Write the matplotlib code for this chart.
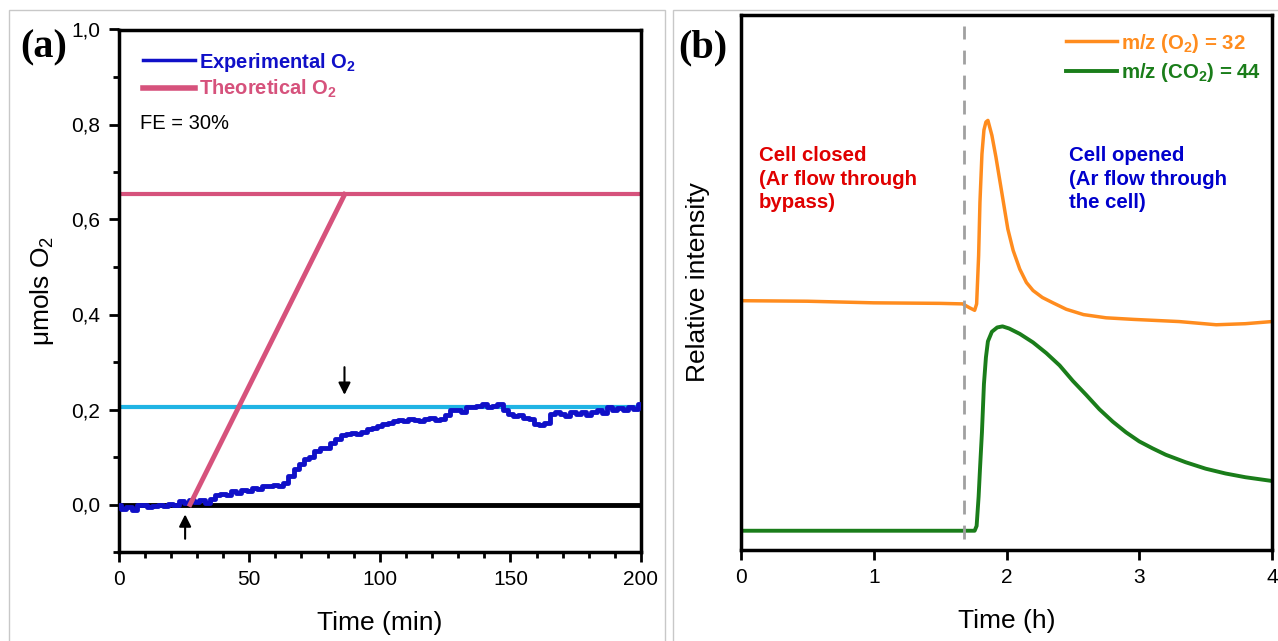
import matplotlib
matplotlib.use("Agg")
import matplotlib.pyplot as plt
from matplotlib.patches import Rectangle
from matplotlib.ticker import MultipleLocator, FuncFormatter

plt.rcParams['font.family'] = ['Liberation Sans', 'DejaVu Sans']
plt.rcParams['mathtext.fontset'] = 'custom'
plt.rcParams['mathtext.rm'] = 'Liberation Sans'
plt.rcParams['mathtext.bf'] = 'Liberation Sans:bold'

# panel (a): O2 evolution
exp_time = [0, 2, 4, 6, 8, 10, 12, 14, 16, 18, 20, 22, 24, 26, 28, 30, 32, 34, 36, 38,
            40, 42, 44, 46, 48, 50, 52, 54, 56, 58, 60, 62, 64, 66, 68, 70, 72, 74, 76, 78,
            80, 82, 84, 86, 88, 90, 92, 94, 96, 98, 100, 102, 104, 106, 108, 110, 112, 114, 116, 118,
            120, 122, 124, 126, 128, 130, 132, 134, 136, 138, 140, 142, 144, 146, 148, 150, 152, 154, 156, 158,
            160, 162, 164, 166, 168, 170, 172, 174, 176, 178, 180, 182, 184, 186, 188, 190, 192, 194, 196, 198, 200]
exp_o2 = [0.0, -0.01, -0.005, -0.012, -0.002, 0.0, -0.006, -0.004, 0.0, -0.004,
          0.002, 0.0, 0.008, 0.004, 0.01, 0.006, 0.01, 0.004, 0.012, 0.02,
          0.022, 0.02, 0.028, 0.025, 0.03, 0.028, 0.035, 0.032, 0.038, 0.04,
          0.042, 0.04, 0.045, 0.06, 0.075, 0.085, 0.095, 0.1, 0.112, 0.118,
          0.12, 0.13, 0.138, 0.146, 0.148, 0.15, 0.148, 0.152, 0.158, 0.162,
          0.165, 0.17, 0.172, 0.175, 0.178, 0.176, 0.18, 0.178, 0.176, 0.18,
          0.182, 0.178, 0.18, 0.188, 0.198, 0.2, 0.195, 0.206, 0.205, 0.208,
          0.212, 0.205, 0.208, 0.212, 0.2, 0.19, 0.186, 0.188, 0.182, 0.18,
          0.17, 0.168, 0.172, 0.19, 0.195, 0.19, 0.186, 0.194, 0.19, 0.195,
          0.188, 0.194, 0.198, 0.192, 0.205, 0.2, 0.204, 0.2, 0.206, 0.202, 0.212]
theo_time = [27.4, 86.6]
theo_o2 = [0.0, 0.653]
theo_max = 0.653
exp_plateau = 0.205
arrow_up_x = 25.5
arrow_down_x = 86.5

# panel (b): mass spec signals (relative units)
ms_time_o2 = [0, 0.5, 1.0, 1.5, 1.67, 1.72, 1.76, 1.775, 1.79, 1.80, 1.815, 1.83, 1.845, 1.86,
              1.89, 1.92, 1.95, 1.98, 2.01, 2.05, 2.1, 2.15, 2.2, 2.27, 2.35, 2.45, 2.58, 2.75,
              2.96, 3.3, 3.58, 3.8, 4.0]
ms_o2 = [0.466, 0.465, 0.462, 0.461, 0.460, 0.453, 0.448, 0.46, 0.55, 0.65, 0.74, 0.785, 0.80, 0.803,
         0.775, 0.735, 0.69, 0.645, 0.60, 0.56, 0.525, 0.50, 0.485, 0.472, 0.462, 0.45, 0.44, 0.434,
         0.431, 0.427, 0.421, 0.423, 0.427]
ms_time_co2 = [0, 1.0, 1.76, 1.775, 1.79, 1.80, 1.815, 1.83, 1.845, 1.86, 1.89, 1.93, 1.97,
               2.02, 2.1, 2.2, 2.3, 2.4, 2.5, 2.6, 2.7, 2.8, 2.9, 3.0, 3.1, 3.2, 3.35, 3.5,
               3.65, 3.8, 4.0]
ms_co2 = [0.036, 0.036, 0.036, 0.045, 0.10, 0.15, 0.22, 0.31, 0.36, 0.39, 0.408, 0.416, 0.418,
          0.414, 0.404, 0.388, 0.368, 0.345, 0.316, 0.29, 0.263, 0.24, 0.22, 0.203, 0.19, 0.178,
          0.164, 0.152, 0.143, 0.136, 0.129]
switch_time = 1.677

blue = '#1010c8'
pink = '#d6527c'
cyan = '#20b4e4'
orange = '#ff8c1e'
green = '#1a7d1a'

fig = plt.figure(figsize=(12.78, 6.41), dpi=100)

# grey panel frames
fig.patches.append(Rectangle((9 / 1278, -0.01), (665 - 9) / 1278, 1 - 10 / 641 + 0.01,
                             transform=fig.transFigure, fill=False, ec='#c8c8c8', lw=1))
fig.patches.append(Rectangle((673 / 1278, -0.01), 0.5, 1 - 10 / 641 + 0.01,
                             transform=fig.transFigure, fill=False, ec='#c8c8c8', lw=1))

ax1 = fig.add_axes([118.5 / 1278, 1 - 552 / 641, (641 - 118.5) / 1278, (552 - 29.5) / 641])
ax2 = fig.add_axes([741 / 1278, 1 - 550 / 641, (1272 - 741) / 1278, (550 - 15) / 641])

# ---- (a)
ax1.axhline(0, color='black', lw=3.5, zorder=2)
ax1.axhline(theo_max, color=pink, lw=3, zorder=2)
ax1.axhline(exp_plateau, color=cyan, lw=3, zorder=2)
ax1.plot(exp_time, exp_o2, color=blue, lw=3.5, drawstyle='steps-mid', zorder=3,
         label=r'Experimental O$_\mathbf{2}$')
ax1.plot(theo_time, theo_o2, color=pink, lw=3.5, zorder=4, label=r'Theoretical O$_\mathbf{2}$')
ax1.annotate('', xy=(arrow_up_x, -0.015), xytext=(arrow_up_x, -0.078),
             arrowprops=dict(arrowstyle='-|>', color='black', lw=1.5, mutation_scale=18))
ax1.annotate('', xy=(arrow_down_x, 0.225), xytext=(arrow_down_x, 0.295),
             arrowprops=dict(arrowstyle='-|>', color='black', lw=1.5, mutation_scale=18))

ax1.set_xlim(0, 200)
ax1.set_ylim(-0.1, 1.0)
ax1.xaxis.set_major_locator(MultipleLocator(50))
ax1.xaxis.set_minor_locator(MultipleLocator(10))
ax1.yaxis.set_major_locator(MultipleLocator(0.2))
ax1.yaxis.set_minor_locator(MultipleLocator(0.1))
ax1.yaxis.set_major_formatter(FuncFormatter(lambda v, p: f'{v:.1f}'.replace('.', ',').replace('-0,0', '0,0')))
ax1.set_xlabel('Time (min)', fontsize=19, labelpad=16)
ax1.set_ylabel(r'$\mathrm{\mu}$mols O$_2$', fontsize=19, labelpad=11)

leg1 = ax1.legend(loc='upper left', bbox_to_anchor=(0.0, 1.006), frameon=False, handlelength=2.6,
                  handletextpad=0.2, labelspacing=0.2, borderaxespad=0.8,
                  prop={'weight': 'bold', 'size': 14.5}, labelcolor='linecolor')
leg1.get_lines()[0].set_linewidth(2.5)
leg1.get_lines()[1].set_linewidth(4)
ax1.text(0.041, 0.821, 'FE = 30%', transform=ax1.transAxes, fontsize=14.5, va='center')

# ---- (b)
ax2.plot(ms_time_o2, ms_o2, color=orange, lw=2.5, label=r'm/z (O$_\mathbf{2}$) = 32')
ax2.plot(ms_time_co2, ms_co2, color=green, lw=2.8, label=r'm/z (CO$_\mathbf{2}$) = 44')
ax2.axvline(switch_time, ymin=0.02, ymax=0.98, color='#a0a0a0', lw=2, ls=(0, (5, 4)))
ax2.set_xlim(0, 4)
ax2.set_ylim(0, 1)
ax2.set_xticks([0, 1, 2, 3, 4])
ax2.set_yticks([])
ax2.set_xlabel('Time (h)', fontsize=19, labelpad=16)
ax2.set_ylabel('Relative intensity', fontsize=19, labelpad=22)
ax2.text(0.033, 0.755, 'Cell closed\n(Ar flow through\nbypass)', transform=ax2.transAxes,
         color='#e00000', fontsize=14.7, fontweight='bold', va='top', linespacing=1.3)
ax2.text(0.618, 0.755, 'Cell opened\n(Ar flow through\nthe cell)', transform=ax2.transAxes,
         color='#0000cc', fontsize=14.7, fontweight='bold', va='top', linespacing=1.3)
leg2 = ax2.legend(loc='upper right', bbox_to_anchor=(1.0, 0.99), frameon=False, handlelength=2.5,
                  handletextpad=0.2, labelspacing=0.3, borderaxespad=0.15,
                  prop={'weight': 'bold', 'size': 14.7}, labelcolor='linecolor')

for ax in (ax1, ax2):
    for s in ax.spines.values():
        s.set_linewidth(2.5)
    ax.tick_params(which='major', direction='out', length=7, width=2, labelsize=15, pad=6)
    ax.tick_params(which='minor', direction='out', length=4, width=2)

fig.text(20 / 1278, 1 - 48 / 641, '(a)', fontsize=29, fontweight='bold', family='Liberation Serif',
         va='center', ha='left')
fig.text(678 / 1278, 1 - 48 / 641, '(b)', fontsize=29, fontweight='bold', family='Liberation Serif',
         va='center', ha='left')

fig.savefig('out.png', dpi=100)
